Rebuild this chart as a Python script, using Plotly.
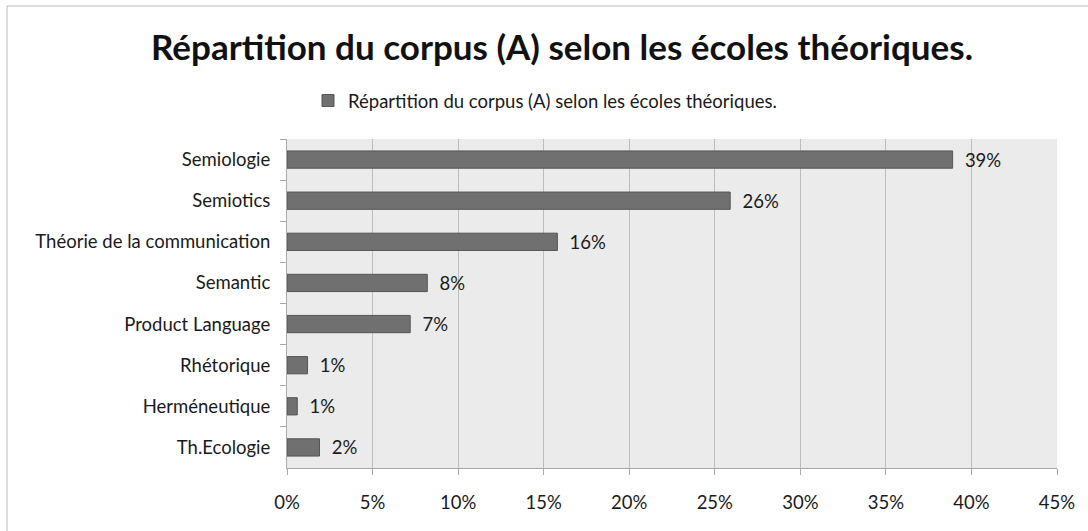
import plotly.graph_objects as go

categories = ["Semiologie", "Semiotics", "Théorie de la communication", "Semantic",
              "Product Language", "Rhétorique", "Herméneutique", "Th.Ecologie"]
values = [0.389, 0.259, 0.158, 0.082, 0.072, 0.012, 0.006, 0.019]
series_name = "Répartition du corpus (A) selon les écoles théoriques."
tick_vals = [0, 0.05, 0.10, 0.15, 0.20, 0.25, 0.30, 0.35, 0.40, 0.45]
tick_text = ["0%", "5%", "10%", "15%", "20%", "25%", "30%", "35%", "40%", "45%"]

W, H = 1088, 531
L, R, T, B = 287, 31, 139, 63
FONT = "Lato, 'Open Sans', sans-serif"
FS = 18.5

fig = go.Figure()
fig.add_trace(go.Bar(
    y=categories, x=values, orientation="h", name=series_name,
    marker=dict(color="#707070", line=dict(color="#555555", width=1)),
    width=0.42,
    texttemplate="\u2002%{x:.0%}", textposition="outside",
    constraintext="none",
    textfont=dict(size=FS, color="#1a1a1a", family=FONT),
    cliponaxis=False,
))

pw = W - L - R
ph = H - T - B
def px_x(p):
    return (p - L) / pw
def px_y(p):
    return (H - B - p) / ph

fig.update_layout(
    width=W, height=H,
    margin=dict(l=L, r=R, t=T, b=B, autoexpand=False),
    paper_bgcolor="white",
    plot_bgcolor="#ebebeb",
    font=dict(family=FONT, size=FS, color="#1a1a1a"),
    title=dict(text="<b>" + series_name + "</b>", x=562 / W, xanchor="center",
               xref="container", y=1 - 48 / H, yanchor="middle",
               font=dict(size=35, family=FONT, color="#111111")),
    showlegend=True,
    legend=dict(orientation="h", x=545 / W, xanchor="center", xref="container",
                y=1 - 101 / H, yref="container", yanchor="middle",
                font=dict(size=FS, family=FONT, color="#1a1a1a"),
                itemwidth=30, bgcolor="rgba(0,0,0,0)"),
    xaxis=dict(range=[0, 0.45], tickvals=tick_vals, ticktext=tick_text,
               showgrid=True, gridcolor="#bdbdbd", gridwidth=1,
               zeroline=False, showline=True, linecolor="#a8a8a8", linewidth=1,
               ticks="outside", ticklen=6, tickcolor="#a8a8a8",
               tickfont=dict(size=FS), ticklabelstandoff=12, mirror=False),
    yaxis=dict(autorange="reversed", type="category",
               showgrid=False, showline=True, linecolor="#a8a8a8", linewidth=1,
               ticks="outside", ticklen=6, tickcolor="#a8a8a8", tickson="boundaries",
               tickfont=dict(size=FS), ticklabelstandoff=12),
    shapes=[dict(type="rect", xref="paper", yref="paper",
                 x0=px_x(7), x1=px_x(W + 5), y0=px_y(H + 5), y1=px_y(6),
                 line=dict(color="#bcbcbc", width=1), fillcolor="rgba(0,0,0,0)",
                 layer="below")],
)

fig.write_html("out.html", config={"displayModeBar": False},
               post_script="document.body.style.margin='0';document.body.style.overflow='hidden';")
